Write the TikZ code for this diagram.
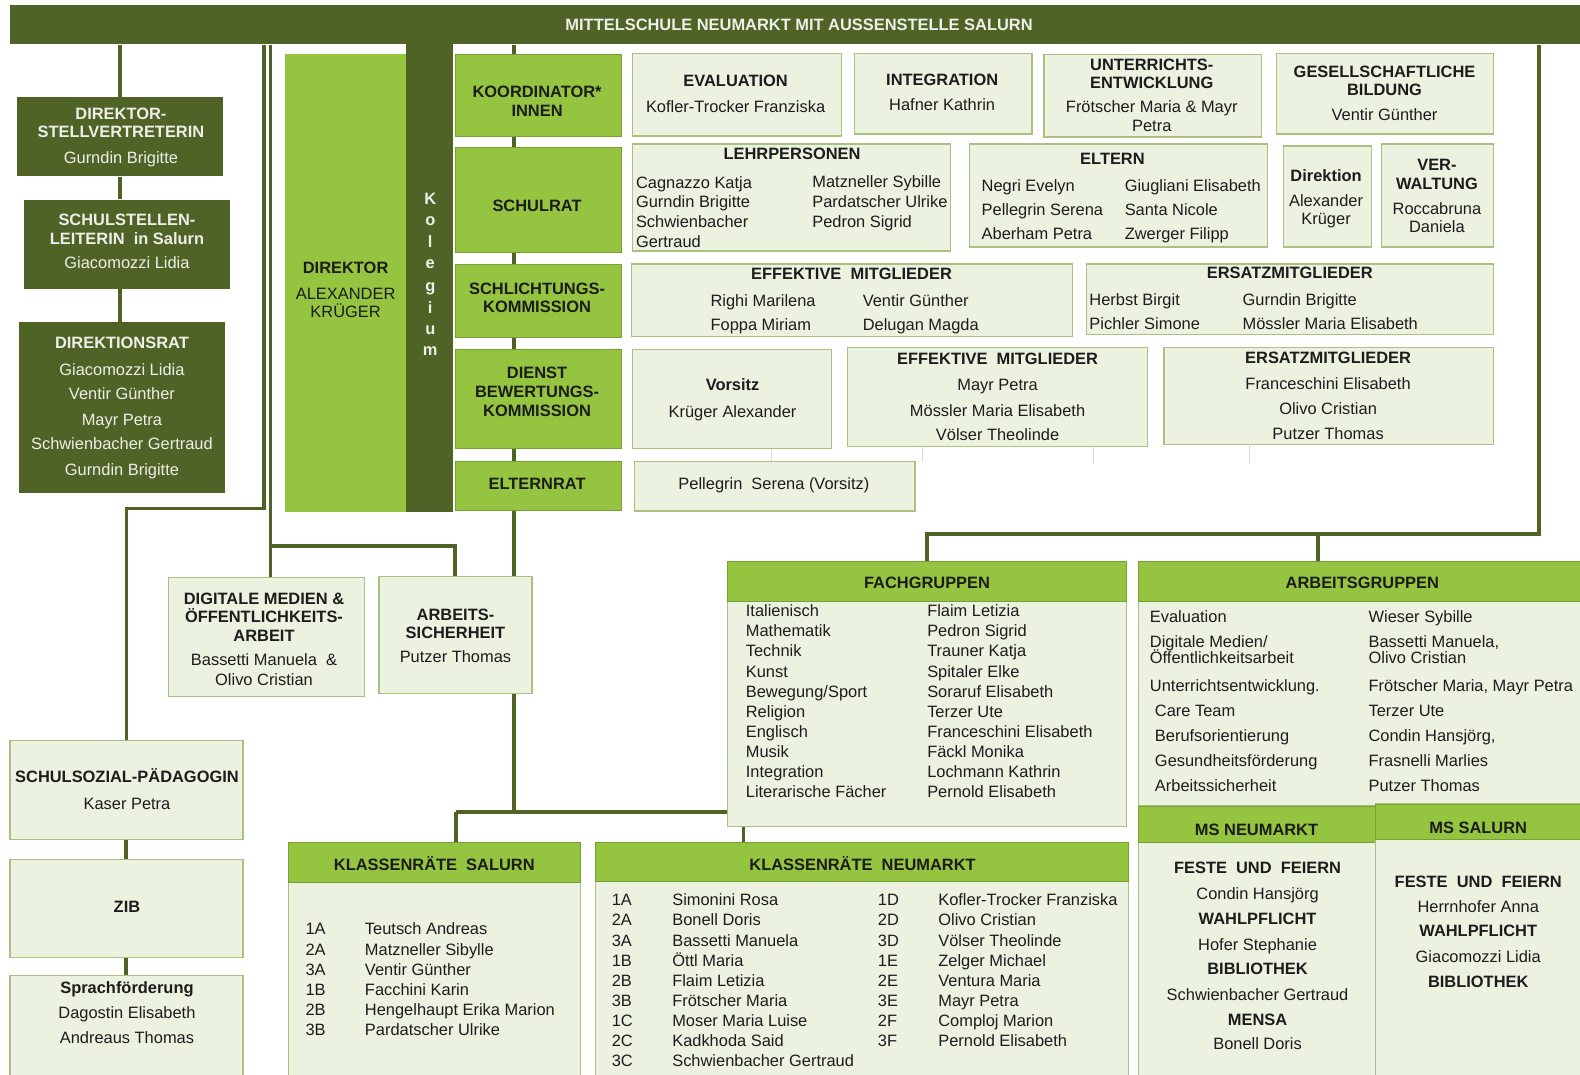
\documentclass[tikz,border=0pt]{standalone}
\usepackage{fontspec}
\setmainfont{Liberation Sans}
\usepackage{xcolor}
\usetikzlibrary{positioning,backgrounds}
\definecolor{olivdunkel}{RGB}{80,99,38}
\definecolor{grasgruen}{RGB}{148,196,64}
\definecolor{grasrand}{RGB}{118,160,48}
\definecolor{blassgruen}{RGB}{236,242,224}
\definecolor{blassrand}{RGB}{172,192,128}
\definecolor{schrift}{RGB}{28,28,28}

\tikzset{
  dunkel/.style={fill=olivdunkel,draw=none,inner sep=0pt},
  kopf/.style={fill=grasgruen,draw=grasrand,line width=1pt,inner sep=0pt},
  blass/.style={fill=blassgruen,draw=blassrand,line width=1.3pt,inner sep=0pt},
  txt/.style={font=\fontsize{16.3}{19}\selectfont,text=schrift,inner sep=0pt,
    text height=11.7pt,text depth=0pt},
  ttl/.style={txt,font=\fontsize{16.3}{19}\selectfont\bfseries},
  wtxt/.style={txt,text=white!90!olivdunkel},
  wttl/.style={ttl,text=white!90!olivdunkel},
  conn/.style={draw=olivdunkel,line width=4pt},
  hauch/.style={draw=black!14,line width=0.7pt}
}

\begin{document}
\begin{tikzpicture}[x=1pt,y=-1pt]
  \useasboundingbox (0,0) rectangle (1568,1066);
  \clip (0,0) rectangle (1568,1066);

  % Kopfbalken
  \node[dunkel,minimum width=1570pt,minimum height=39pt] (bar) at (795,24.5) {};
  \node[wttl] (titel) at (793,24) {MITTELSCHULE NEUMARKT MIT AUSSENSTELLE SALURN};

  % Direktion links
  \node[dunkel,minimum width=204pt,minimum height=79pt] (dsv) at (119,135.5) {};
  \node[dunkel,minimum width=204pt,minimum height=89pt] (ssl) at (126,242.5) {};
  \node[dunkel,minimum width=204pt,minimum height=169pt] (drat) at (121,404.5) {};
  \foreach \y/\t [count=\i] in {113/{\bfseries DIREKTOR-},131/{\bfseries STELLVERTRETERIN},
      156/Gurndin Brigitte}
    \node[wtxt] (dsv-\i) at (120,\y) {\t};
  \foreach \y/\t [count=\i] in {218/{\bfseries SCHULSTELLEN-},237/{\bfseries LEITERIN\ \ in Salurn},
      261/Giacomozzi Lidia}
    \node[wtxt] (ssl-\i) at (126,\y) {\t};
  \foreach \y/\t [count=\i] in {340/{\bfseries DIREKTIONSRAT},367/Giacomozzi Lidia,391/Ventir Günther,
      416/Mayr Petra,440/Schwienbacher Gertraud,466/Gurndin Brigitte}
    \node[wtxt] (drat-\i) at (121,\y) {\t};

  % Direktor und Kollegium
  \node[kopf,draw=none,minimum width=120pt,minimum height=454pt] (dir) at (343,281) {};
  \node[dunkel,minimum width=47pt,minimum height=464pt] (koll) at (426.5,276) {};
  \node[ttl] (dir-1) at (343,266) {DIREKTOR};
  \node[txt] (dir-2) at (343,291) {ALEXANDER};
  \node[txt] (dir-3) at (343,309) {KRÜGER};
  \foreach \c/\y [count=\i] in {K/197,o/218,l/240,e/261,g/283,i/305,u/326,m/347}
    \node[wttl] (koll-\i) at (427,\y) {\c};

  % Gremien
  \node[kopf,minimum width=165pt,minimum height=81pt] (koord) at (534.5,94.5) {};
  \node[kopf,minimum width=165pt,minimum height=105pt] (srat) at (534.5,198.5) {};
  \node[kopf,minimum width=165pt,minimum height=73pt] (schl) at (534.5,298.5) {};
  \node[kopf,minimum width=165pt,minimum height=98pt] (dbk) at (534.5,396) {};
  \node[kopf,minimum width=165pt,minimum height=49pt] (erat) at (534.5,482.5) {};
  \foreach \y/\t [count=\i] in {91/KOORDINATOR*,110/INNEN,204/SCHULRAT,286/SCHLICHTUNGS-,
      304/KOMMISSION,370/DIENST,389/BEWERTUNGS-,407/KOMMISSION,480/ELTERNRAT}
    \node[ttl] (grm-\i) at (533,\y) {\t};

  % Koordinator*innen
  \node[blass,minimum width=207pt,minimum height=82pt] (eval) at (731.5,94) {};
  \node[blass,minimum width=176pt,minimum height=80pt] (integ) at (936,93) {};
  \node[blass,minimum width=216pt,minimum height=82pt] (uent) at (1144,95) {};
  \node[blass,minimum width=215pt,minimum height=80pt] (gesb) at (1374.5,93) {};
  \foreach \x/\y/\t [count=\i] in {730/80/{\bfseries EVALUATION},730/106/Kofler-Trocker Franziska,
      935/79/{\bfseries INTEGRATION},935/104/Hafner Kathrin,
      1143/64/{\bfseries UNTERRICHTS-},1143/82/{\bfseries ENTWICKLUNG},
      1143/106/Frötscher Maria \& Mayr,1143/125/Petra,
      1374/71/{\bfseries GESELLSCHAFTLICHE},1374/89/{\bfseries BILDUNG},1374/114/Ventir Günther}
    \node[txt] (koo-\i) at (\x,\y) {\t};

  % Schulrat
  \node[blass,minimum width=315pt,minimum height=106pt] (lehr) at (785.5,196) {};
  \node[blass,minimum width=296pt,minimum height=102pt] (elt) at (1110,194) {};
  \node[blass,minimum width=87pt,minimum height=100pt] (dion) at (1317.5,195) {};
  \node[blass,minimum width=111pt,minimum height=102pt] (verw) at (1426.5,194) {};
  \foreach \x/\y/\t [count=\i] in {786/152/LEHRPERSONEN,1104/157/ELTERN,1316/174/Direktion,
      1426/163/VER-,1426/182/WALTUNG}
    \node[ttl] (srt-\i) at (\x,\y) {\t};
  \foreach \x/\y/\t [count=\i] in {1316/199/Alexander,1316/217/Krüger,1426/207/Roccabruna,
      1426/225/Daniela}
    \node[txt] (srn-\i) at (\x,\y) {\t};
  \foreach \x/\y/\t [count=\i] in {631/181/Cagnazzo Katja,631/200/Gurndin Brigitte,
      631/220/Schwienbacher,631/240/Gertraud,806/180/Matzneller Sybille,
      806/200/Pardatscher Ulrike,806/220/Pedron Sigrid,974/184/Negri Evelyn,
      974/208/Pellegrin Serena,974/232/Aberham Petra,1116/184/Giugliani Elisabeth,
      1116/208/Santa Nicole,1116/232/Zwerger Filipp}
    \node[txt,anchor=west] (srm-\i) at (\x,\y) {\t};

  % Schlichtungskommission
  \node[blass,minimum width=437pt,minimum height=72pt] (seff) at (845.5,298) {};
  \node[blass,minimum width=404pt,minimum height=70pt] (sers) at (1280,297) {};
  \node[ttl] (seff-t) at (845,272) {EFFEKTIVE\ \ MITGLIEDER};
  \node[ttl] (sers-t) at (1280,271) {ERSATZMITGLIEDER};
  \foreach \x/\y/\t [count=\i] in {705/298/Righi Marilena,705/322/Foppa Miriam,
      856/298/Ventir Günther,856/322/Delugan Magda,1081/297/Herbst Birgit,
      1081/321/Pichler Simone,1233/297/Gurndin Brigitte,1233/321/Mössler Maria Elisabeth}
    \node[txt,anchor=west] (skm-\i) at (\x,\y) {\t};

  % Dienstbewertungskommission
  \node[blass,minimum width=197pt,minimum height=98pt] (vors) at (726.5,396) {};
  \node[blass,minimum width=298pt,minimum height=98pt] (deff) at (990,394) {};
  \node[blass,minimum width=327pt,minimum height=96pt] (ders) at (1318.5,393) {};
  \foreach \x/\y/\t [count=\i] in {727/382/{\bfseries Vorsitz},727/408/Krüger Alexander,
      990/356/{\bfseries EFFEKTIVE\ \ MITGLIEDER},990/382/Mayr Petra,
      990/407/Mössler Maria Elisabeth,990/431/Völser Theolinde,
      1318/355/{\bfseries ERSATZMITGLIEDER},1318/381/Franceschini Elisabeth,
      1318/405/Olivo Cristian,1318/430/Putzer Thomas}
    \node[txt] (dbm-\i) at (\x,\y) {\t};

  % Elternrat
  \node[blass,minimum width=278pt,minimum height=49pt] (pell) at (769,482.5) {};
  \node[txt] (pell-t) at (768,480) {Pellegrin\ \ Serena (Vorsitz)};

  % Beauftragte
  \node[blass,minimum width=195pt,minimum height=118pt] (digi) at (264.5,632) {};
  \node[blass,minimum width=152pt,minimum height=116pt] (asich) at (452,630) {};
  \foreach \x/\y/\t [count=\i] in {262/594/{\bfseries DIGITALE MEDIEN \&},
      262/612/{\bfseries ÖFFENTLICHKEITS-},262/631/{\bfseries ARBEIT},
      262/655/Bassetti Manuela\ \ \&,262/674/Olivo Cristian,
      452/610/{\bfseries ARBEITS-},452/628/{\bfseries SICHERHEIT},452/652/Putzer Thomas}
    \node[txt] (bea-\i) at (\x,\y) {\t};

  % Unterstuetzung links unten
  \node[blass,minimum width=231pt,minimum height=98pt] (ssp) at (125.5,784) {};
  \node[blass,minimum width=231pt,minimum height=97pt] (zib) at (125.5,901.5) {};
  \node[blass,minimum width=231pt,minimum height=107pt] (spr) at (125.5,1021.5) {};
  \foreach \y/\t [count=\i] in {771/{\bfseries SCHULSOZIAL-PÄDAGOGIN},797/Kaser Petra,
      900/{\bfseries ZIB},980/{\bfseries Sprachförderung},1005/Dagostin Elisabeth,
      1030/Andreaus Thomas}
    \node[txt] (unt-\i) at (126,\y) {\t};

  % Fachgruppen
  \node[blass,minimum width=396pt,minimum height=263pt] (fach) at (920,688.5) {};
  \node[kopf,minimum width=396pt,minimum height=40pt] (fachK) at (920,577) {};
  \node[ttl] (fach-t) at (920,578) {FACHGRUPPEN};
  \foreach \f/\n [count=\i] in {Italienisch/Flaim Letizia,Mathematik/Pedron Sigrid,
      Technik/Trauner Katja,Kunst/Spitaler Elke,{Bewegung/Sport}/Soraruf Elisabeth,
      Religion/Terzer Ute,Englisch/Franceschini Elisabeth,Musik/Fäckl Monika,
      Integration/Lochmann Kathrin,Literarische Fächer/Pernold Elisabeth}
  {
    \node[txt,anchor=west] (fg-\i) at (740,586+20*\i) {\f};
    \node[txt,anchor=west] (fn-\i) at (920,586+20*\i) {\n};
  }

  % Arbeitsgruppen
  \node[blass,minimum width=450pt,minimum height=243pt] (arb) at (1355,678.5) {};
  \node[kopf,minimum width=450pt,minimum height=40pt] (arbK) at (1355,577) {};
  \node[ttl] (arb-t) at (1352,578) {ARBEITSGRUPPEN};
  \foreach \x/\y/\t [count=\i] in {1141/612/Evaluation,1141/637/{Digitale Medien/},
      1141/653/Öffentlichkeitsarbeit,1141/680/{Unterrichtsentwicklung.},1146/705/Care Team,
      1146/730/Berufsorientierung,1146/755/Gesundheitsförderung,1146/780/Arbeitssicherheit,
      1358/612/Wieser Sybille,1358/637/{Bassetti Manuela,},1358/653/Olivo Cristian,
      1358/680/{Frötscher Maria, Mayr Petra},1358/705/Terzer Ute,
      1358/730/{Condin Hansjörg,},1358/755/Frasnelli Marlies,1358/780/Putzer Thomas}
    \node[txt,anchor=west] (ag-\i) at (\x,\y) {\t};

  % Mittelschulen
  \node[blass,minimum width=235pt,minimum height=275pt] (msn) at (1247.5,937.5) {};
  \node[kopf,minimum width=235pt,minimum height=36pt] (msnK) at (1247.5,818) {};
  \node[blass,minimum width=215pt,minimum height=277pt] (mss) at (1472.5,936.5) {};
  \node[kopf,minimum width=215pt,minimum height=35pt] (mssK) at (1472.5,815.5) {};
  \node[ttl] (msn-t) at (1247,823) {MS NEUMARKT};
  \node[ttl] (mss-t) at (1467,821) {MS SALURN};
  \foreach \y/\t [count=\i] in {861/{\bfseries FESTE\ \ UND\ \ FEIERN},887/Condin Hansjörg,
      912/{\bfseries WAHLPFLICHT},937/Hofer Stephanie,961/{\bfseries BIBLIOTHEK},
      987/Schwienbacher Gertraud,1012/{\bfseries MENSA},1036/Bonell Doris}
    \node[txt] (msn-\i) at (1248,\y) {\t};
  \foreach \y/\t [count=\i] in {875/{\bfseries FESTE\ \ UND\ \ FEIERN},900/Herrnhofer Anna,
      924/{\bfseries WAHLPFLICHT},949/Giacomozzi Lidia,974/{\bfseries BIBLIOTHEK}}
    \node[txt] (mss-\i) at (1467,\y) {\t};

  % Klassenraete
  \node[blass,minimum width=290pt,minimum height=239pt] (krs) at (431,955.5) {};
  \node[kopf,minimum width=290pt,minimum height=40pt] (krsK) at (431,856) {};
  \node[blass,minimum width=529pt,minimum height=239pt] (krn) at (855.5,955.5) {};
  \node[kopf,minimum width=529pt,minimum height=39pt] (krnK) at (855.5,855.5) {};
  \node[ttl] (krs-t) at (431,858) {KLASSENRÄTE\ \ SALURN};
  \node[ttl] (krn-t) at (856,858) {KLASSENRÄTE\ \ NEUMARKT};
  \foreach \k/\n [count=\i] in {1A/Teutsch Andreas,2A/Matzneller Sibylle,3A/Ventir Günther,
      1B/Facchini Karin,2B/Hengelhaupt Erika Marion,3B/Pardatscher Ulrike}
  {
    \node[txt,anchor=west] (ksk-\i) at (303,902+20*\i) {\k};
    \node[txt,anchor=west] (ksn-\i) at (362,902+20*\i) {\n};
  }
  \foreach \k/\n [count=\i] in {1A/Simonini Rosa,2A/Bonell Doris,3A/Bassetti Manuela,
      1B/Öttl Maria,2B/Flaim Letizia,3B/Frötscher Maria,1C/Moser Maria Luise,
      2C/Kadkhoda Said,3C/Schwienbacher Gertraud}
  {
    \node[txt,anchor=west] (knk-\i) at (607,873+20*\i) {\k};
    \node[txt,anchor=west] (knn-\i) at (667,873+20*\i) {\n};
  }
  \foreach \k/\n [count=\i] in {1D/Kofler-Trocker Franziska,2D/Olivo Cristian,
      3D/Völser Theolinde,1E/Zelger Michael,2E/Ventura Maria,3E/Mayr Petra,
      2F/Comploj Marion,3F/Pernold Elisabeth}
  {
    \node[txt,anchor=west] (kmk-\i) at (871,873+20*\i) {\k};
    \node[txt,anchor=west] (kmn-\i) at (931,873+20*\i) {\n};
  }

  % Verbindungslinien
  \begin{scope}[on background layer]
    \draw[conn] (dsv.north) -- (dsv.north |- bar.south);
    \draw[conn] (dsv.south) -- (dsv.south |- ssl.north);
    \draw[conn] (ssl.south -| dsv) -- (drat.north -| dsv);
    % Doppellinie neben dem Direktor
    \coordinate (kA) at (262,505);
    \coordinate (kB) at (268,542);
    \draw[conn,line width=3pt] (kA |- bar.south) -- (kA) -- (kA -| ssp) -- (ssp.north);
    \draw[conn,line width=3pt] (kB |- bar.south) -- (kB |- digi.north);
    \draw[conn] (kB) -| (asich.north);
    \draw[conn] (ssp.south) -- (zib.north);
    \draw[conn] (zib.south) -- (spr.north);
    % Mittelachse
    \coordinate (kS) at (510,806);
    \coordinate (kT) at (453,806);
    \draw[conn] (kS |- bar.south) -- (kS);
    \draw[conn] (kT) -- (kT -| fach.west);
    \draw[conn] (kT) -- (kT |- krsK.north);
    \coordinate (kN) at (738,820);
    \draw[conn,line width=3pt] (kN) -- (kN |- krnK.north);
    % rechte Seite
    \coordinate (kR) at (1527,530);
    \coordinate (kQ) at (1308,530);
    \draw[conn] (kR |- bar.south) -- (kR) -- (kR -| fachK.north) -- (fachK.north);
    \draw[conn] (kQ) -- (kQ |- arbK.north);
    % blasse Hilfslinien
    \draw[hauch] (vors.south -| 765,0) -- (pell.north -| 765,0);
    \coordinate (h1) at (915,443);
    \coordinate (h2) at (1085,443);
    \coordinate (h3) at (1240,441);
    \draw[hauch] (h1) -- ++(0,15);
    \draw[hauch] (h2) -- ++(0,17);
    \draw[hauch] (h3) -- ++(0,19);
  \end{scope}
\end{tikzpicture}
\end{document}
